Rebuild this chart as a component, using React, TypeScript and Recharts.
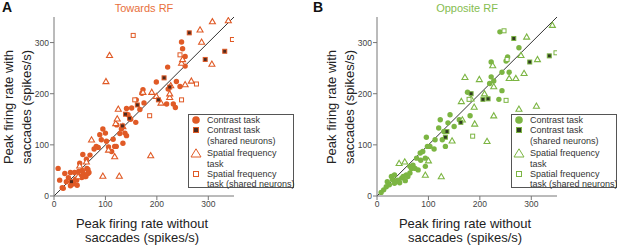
import React from "react";
import { ScatterChart, Scatter, XAxis, YAxis, ReferenceLine } from "recharts";

if (typeof document !== "undefined") document.body.style.margin = "0";

type Pt = [number, number];

const axisTicks = [0, 100, 200, 300];
const xLabel = ["Peak firing rate without", "saccades (spikes/s)"];
const yLabel = ["Peak firing rate with", "saccades (spikes/s)"];
const legendLabels = [
  ["Contrast task"],
  ["Contrast task", "(shared neurons)"],
  ["Spatial frequency", "task"],
  ["Spatial frequency", "task (shared neurons)"],
];

// panel A - towards RF
const towardsContrast: Pt[] = [
  [8, 54], [11, 31], [16, 16], [18, 15], [21, 44], [24, 28], [28, 36], [32, 46], [32, 20],
  [36, 24], [38, 24], [40, 46], [42, 33], [44, 31], [45, 21], [48, 48], [50, 38], [50, 64],
  [54, 36], [55, 50], [56, 81], [57, 44], [60, 38], [62, 38], [63, 72], [64, 54], [66, 44],
  [66, 52], [68, 46], [70, 80], [78, 92], [82, 97], [86, 95], [89, 120], [92, 110], [95, 131],
  [100, 123], [102, 107], [106, 96], [112, 87], [115, 111], [118, 97], [121, 97], [122, 139],
  [128, 122], [131, 131], [134, 103], [138, 123], [141, 118], [141, 171], [144, 159],
  [149, 150], [151, 172], [159, 144], [160, 188], [167, 169], [171, 201], [173, 208],
  [175, 182], [199, 223], [219, 180], [221, 252], [222, 209], [232, 180], [236, 173],
  [238, 224], [245, 214], [248, 301], [250, 288], [255, 273], [255, 254],
];
const towardsContrastShared: Pt[] = [
  [34, 28], [133, 137], [139, 160], [147, 152], [162, 178], [203, 188], [214, 231],
  [225, 213], [263, 319], [294, 267], [332, 283],
];
const towardsSpatial: Pt[] = [
  [47, 38], [50, 59], [63, 67], [73, 110], [95, 39], [101, 224], [106, 90], [108, 275],
  [118, 77], [120, 142], [123, 151], [125, 170], [127, 39], [134, 136], [173, 203], [188, 79],
  [190, 203], [199, 195], [208, 182], [225, 193], [225, 200], [227, 216], [248, 260],
  [250, 267], [255, 218], [267, 225], [284, 325], [287, 301], [307, 258], [308, 341], [339, 343],
];
const towardsSpatialShared: Pt[] = [
  [154, 314], [157, 188], [186, 157], [245, 276], [248, 188], [277, 219], [347, 306],
];

// panel B - opposite RF
const oppositeContrast: Pt[] = [
  [8, 7], [13, 12], [18, 18], [20, 28], [24, 22], [28, 38], [30, 32], [34, 25], [34, 41],
  [38, 30], [41, 31], [44, 26], [48, 35], [51, 38], [55, 30], [57, 41], [60, 38], [64, 45],
  [64, 58], [67, 54], [70, 60], [74, 54], [77, 74], [80, 51], [84, 84], [85, 70], [89, 87],
  [94, 74], [94, 58], [96, 115], [98, 97], [103, 97], [111, 92], [113, 110], [120, 133],
  [123, 149], [127, 110], [130, 126], [133, 97], [138, 143], [142, 159], [150, 136],
  [160, 149], [176, 203], [181, 157], [219, 220], [222, 262], [222, 233], [227, 225],
  [237, 189], [239, 321], [243, 206], [243, 242], [251, 264], [254, 272], [257, 242], [276, 290],
];
const oppositeContrastShared: Pt[] = [
  [133, 115], [136, 126], [163, 144], [183, 200], [206, 189], [216, 190], [266, 308],
  [297, 262], [335, 274],
];
const oppositeSpatial: Pt[] = [
  [43, 64], [54, 67], [94, 41], [100, 69], [125, 38], [146, 108], [164, 185], [166, 149],
  [171, 232], [183, 190], [189, 174], [190, 141], [199, 228], [209, 200], [214, 107],
  [225, 255], [227, 214], [227, 157], [257, 230], [270, 230], [276, 170], [280, 275],
  [286, 240], [291, 311], [310, 176], [312, 267], [341, 334],
];
const oppositeSpatialShared: Pt[] = [
  [179, 189], [186, 117], [247, 323], [251, 187], [253, 267], [348, 280],
];

const FONT = '"Liberation Sans", Arial, sans-serif';
const toXY = (pts: Pt[]) => pts.map(([x, y]) => ({ x, y }));

const dot = (color: string) => (p: any) => <circle cx={p.cx} cy={p.cy} r={2.7} fill={color} />;
const tri = (color: string) => (p: any) => (
  <path
    d={`M${p.cx},${p.cy - 3}L${p.cx - 3},${p.cy + 2.2}L${p.cx + 3},${p.cy + 2.2}Z`}
    fill="#fff"
    stroke={color}
    strokeWidth={1.1}
  />
);
const sq = (fill: string, stroke: string) => (p: any) => (
  <rect x={p.cx - 2} y={p.cy - 2} width={4} height={4} fill={fill} stroke={stroke} strokeWidth={1} />
);

type PanelProps = {
  left: number;
  letter: string;
  title: string;
  color: string;
  titleColor: string;
  dark: string;
  contrast: Pt[];
  contrastShared: Pt[];
  spatial: Pt[];
  spatialShared: Pt[];
};

function Panel(props: PanelProps) {
  const { left, letter, title, color, titleColor, dark } = props;
  const tick = { fontSize: 8.5, fill: "#444", fontFamily: FONT };
  return (
    <div style={{ position: "absolute", left, top: 0, width: 300, height: 248 }}>
      <ScatterChart width={300} height={248} margin={{ top: 17, right: 66, bottom: 32, left: 0 }}>
        <XAxis
          type="number"
          dataKey="x"
          domain={[0, 350]}
          ticks={axisTicks}
          tickSize={4}
          tickMargin={1}
          height={20}
          tick={tick}
          stroke="#777"
          allowDataOverflow
        />
        <YAxis
          type="number"
          dataKey="y"
          domain={[0, 350]}
          ticks={axisTicks}
          tickSize={4}
          tickMargin={1}
          width={54}
          tick={tick}
          stroke="#777"
          allowDataOverflow
        />
        <Scatter data={toXY(props.contrast)} shape={dot(color)} isAnimationActive={false} />
        <Scatter data={toXY(props.spatial)} shape={tri(color)} isAnimationActive={false} />
        <Scatter data={toXY(props.spatialShared)} shape={sq("#fff", color)} isAnimationActive={false} />
        <Scatter data={toXY(props.contrastShared)} shape={sq(dark, color)} isAnimationActive={false} />
        <ReferenceLine segment={[{ x: 0, y: 0 }, { x: 350, y: 350 }]} stroke="#333" strokeWidth={1} />
      </ScatterChart>
      <svg
        width={300}
        height={248}
        style={{ position: "absolute", left: 0, top: 0, pointerEvents: "none", fontFamily: FONT, overflow: "visible" }}
      >
        <text x={letter === "A" ? 2 : -10} y={12} fontSize={14} fontWeight="bold" fill="#111">
          {letter}
        </text>
        <text x={144} y={7.5} fontSize={11} fill={titleColor} textAnchor="middle" dominantBaseline="central">
          {title}
        </text>
        {yLabel.map((s, i) => (
          <text
            key={s}
            transform={`translate(${8.5 + i * 17.5},107) rotate(-90)`}
            fontSize={13}
            fill="#222"
            textAnchor="middle"
            dominantBaseline="central"
          >
            {s}
          </text>
        ))}
        {xLabel.map((s, i) => (
          <text key={s} x={142} y={223 + i * 14.5} fontSize={13} fill="#222" textAnchor="middle" dominantBaseline="central">
            {s}
          </text>
        ))}
      </svg>
      <Legend color={color} dark={dark} />
    </div>
  );
}

function Legend({ color, dark }: { color: string; dark: string }) {
  const markers = [
    <svg width={10} height={10}><circle cx={5} cy={5} r={3.8} fill={color} /></svg>,
    <svg width={10} height={10}><rect x={2.5} y={2.5} width={5} height={5} fill={dark} stroke={color} /></svg>,
    <svg width={12} height={10}><path d="M6,0.8L1,9L11,9Z" fill="#fff" stroke={color} strokeWidth={1} /></svg>,
    <svg width={10} height={10}><rect x={2.5} y={2.5} width={5} height={5} fill="#fff" stroke={color} /></svg>,
  ];
  return (
    <div
      style={{
        position: "absolute",
        left: 188,
        top: 114,
        width: 106,
        height: 74,
        boxSizing: "border-box",
        border: "1px solid #555",
        background: "#fff",
        fontFamily: FONT,
        fontSize: 9,
        lineHeight: "10.3px",
        color: "#333",
      }}
    >
      {legendLabels.map((lines, i) => (
        <div key={i} style={{ position: "relative", paddingLeft: 18, marginTop: i === 2 ? 2.4 : 0, whiteSpace: "nowrap" }}>
          <div style={{ position: "absolute", left: i === 2 ? 1 : 2, top: 0, height: 10, display: "flex" }}>
            {markers[i]}
          </div>
          {lines.map((l) => (
            <div key={l}>{l}</div>
          ))}
        </div>
      ))}
    </div>
  );
}

export default function App() {
  return (
    <div style={{ position: "relative", width: 617, height: 248, background: "#fff" }}>
      <Panel
        left={0}
        letter="A"
        title="Towards RF"
        color="#e05a26"
        titleColor="#e8703c"
        dark="#4d2a1e"
        contrast={towardsContrast}
        contrastShared={towardsContrastShared}
        spatial={towardsSpatial}
        spatialShared={towardsSpatialShared}
      />
      <Panel
        left={323}
        letter="B"
        title="Opposite RF"
        color="#7cb543"
        titleColor="#86bd50"
        dark="#2f3b22"
        contrast={oppositeContrast}
        contrastShared={oppositeContrastShared}
        spatial={oppositeSpatial}
        spatialShared={oppositeSpatialShared}
      />
    </div>
  );
}
